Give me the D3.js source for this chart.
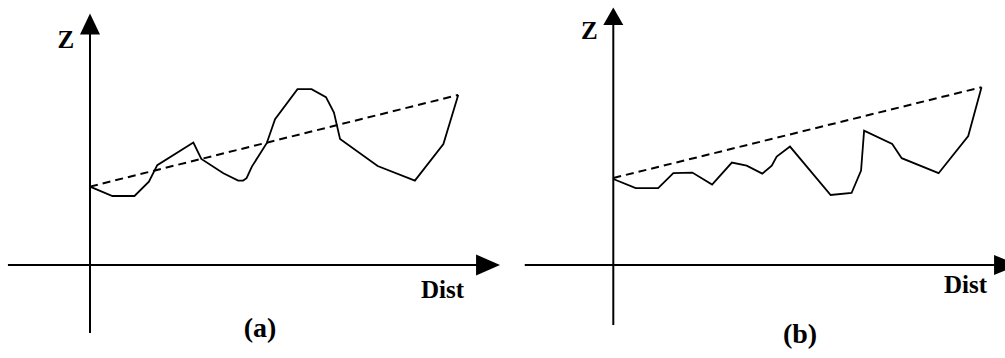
<!DOCTYPE html>
<html>
<head>
<meta charset="utf-8">
<script src="https://cdn.jsdelivr.net/npm/d3@7"></script>
<style>
  html, body { margin: 0; padding: 0; background: #fff; }
  svg { display: block; }
  text { font-family: "Liberation Serif", "Times New Roman", serif; font-weight: bold; fill: #000; }
</style>
</head>
<body>
<svg id="chart" width="1005" height="358"></svg>
<script>
// ---------- Data (Dist, Z in arbitrary units) ----------
const distA = [0, 5.9, 11.7, 15.5, 17.7, 27.2, 29.3, 35.1, 39.0, 40.3, 41.2, 42.6, 46.5, 48.7, 54.6, 58.3, 62.1, 64.2, 65.8, 75.7, 85.5, 93.0, 96.9];
const zA    = [39.2, 34.5, 34.5, 41.7, 49.9, 61.2, 53.0, 45.9, 42.2, 42.2, 43.4, 49.2, 60.9, 72.9, 87.9, 87.9, 83.9, 76.2, 63.0, 49.5, 42.2, 60.5, 85.0];
const chordDistA = [0, 96.9];
const chordZA    = [39.2, 85.0];

const distB = [0, 5.9, 11.8, 15.8, 20.8, 26.0, 31.2, 35.1, 39.2, 41.7, 43.0, 46.5, 57.2, 62.7, 65.2, 66.0, 73.4, 75.9, 85.6, 93.4, 96.9];
const zB    = [43.0, 38.4, 38.4, 45.9, 46.2, 40.2, 51.2, 49.7, 45.7, 49.7, 54.2, 59.2, 35.0, 36.0, 47.2, 67.2, 60.5, 53.4, 45.9, 64.5, 88.9];
const chordDistB = [0, 96.9];
const chordZB    = [43.5, 88.9];

const panelLabels = ["(a)", "(b)"];
const xAxisLabel = "Dist";
const yAxisLabel = "Z";

// ---------- Layout ----------
const svg = d3.select("#chart");

const panels = [
  {
    dist: distA, z: zA, cd: chordDistA, cz: chordZA, label: panelLabels[0],
    xr: [90, 470], yr: [265, 65],
    xAxisExt: [-21.6, 101.6, 107.9], yAxisExt: [-34, 115.3, 125.8],
    arrowHalfX: 10.5, arrowHalfY: 10,
    zPos: [57.5, 48.3], distPos: [421, 298.3], labPos: [260, 337]
  },
  {
    dist: distB, z: zB, cd: chordDistB, cz: chordZB, label: panelLabels[1],
    xr: [613.3, 993.3], yr: [265, 65],
    xAxisExt: [-23.3, 100.2, 106.5], yAxisExt: [-30, 120, 128.75],
    arrowHalfX: 10, arrowHalfY: 10,
    zPos: [581, 38.5], distPos: [944, 293.3], labPos: [800, 343]
  }
];

panels.forEach(p => {
  const x = d3.scaleLinear().domain([0, 100]).range(p.xr);
  const y = d3.scaleLinear().domain([0, 100]).range(p.yr);
  const g = svg.append("g");

  // x axis line + arrow
  g.append("line")
    .attr("x1", x(p.xAxisExt[0])).attr("x2", x(p.xAxisExt[1]) + 1)
    .attr("y1", y(0)).attr("y2", y(0))
    .attr("stroke", "#000").attr("stroke-width", 2);
  g.append("path")
    .attr("d", `M${x(p.xAxisExt[1])},${y(0) - p.arrowHalfX} L${x(p.xAxisExt[2])},${y(0)} L${x(p.xAxisExt[1])},${y(0) + p.arrowHalfX} Z`)
    .attr("fill", "#000");

  // y axis line + arrow
  g.append("line")
    .attr("x1", x(0)).attr("x2", x(0))
    .attr("y1", y(p.yAxisExt[0])).attr("y2", y(p.yAxisExt[1]) - 1)
    .attr("stroke", "#000").attr("stroke-width", 2);
  g.append("path")
    .attr("d", `M${x(0) - p.arrowHalfY},${y(p.yAxisExt[1])} L${x(0)},${y(p.yAxisExt[2])} L${x(0) + p.arrowHalfY},${y(p.yAxisExt[1])} Z`)
    .attr("fill", "#000");

  // dashed chord
  const chord = p.cd.map((d, i) => [d, p.cz[i]]);
  g.append("path")
    .datum(chord)
    .attr("d", d3.line().x(d => x(d[0])).y(d => y(d[1])))
    .attr("fill", "none").attr("stroke", "#000")
    .attr("stroke-width", 2).attr("stroke-dasharray", "8,5");

  // profile
  const prof = p.dist.map((d, i) => [d, p.z[i]]);
  g.append("path")
    .datum(prof)
    .attr("d", d3.line().x(d => x(d[0])).y(d => y(d[1])))
    .attr("fill", "none").attr("stroke", "#000")
    .attr("stroke-width", 1.8).attr("stroke-linejoin", "miter");

  // labels
  g.append("text").attr("x", p.zPos[0]).attr("y", p.zPos[1])
    .attr("font-size", 25).text(yAxisLabel);
  g.append("text").attr("x", p.distPos[0]).attr("y", p.distPos[1])
    .attr("font-size", 25).text(xAxisLabel);
  g.append("text").attr("x", p.labPos[0]).attr("y", p.labPos[1])
    .attr("font-size", 28).attr("text-anchor", "middle").text(p.label);
});
</script>
</body>
</html>
